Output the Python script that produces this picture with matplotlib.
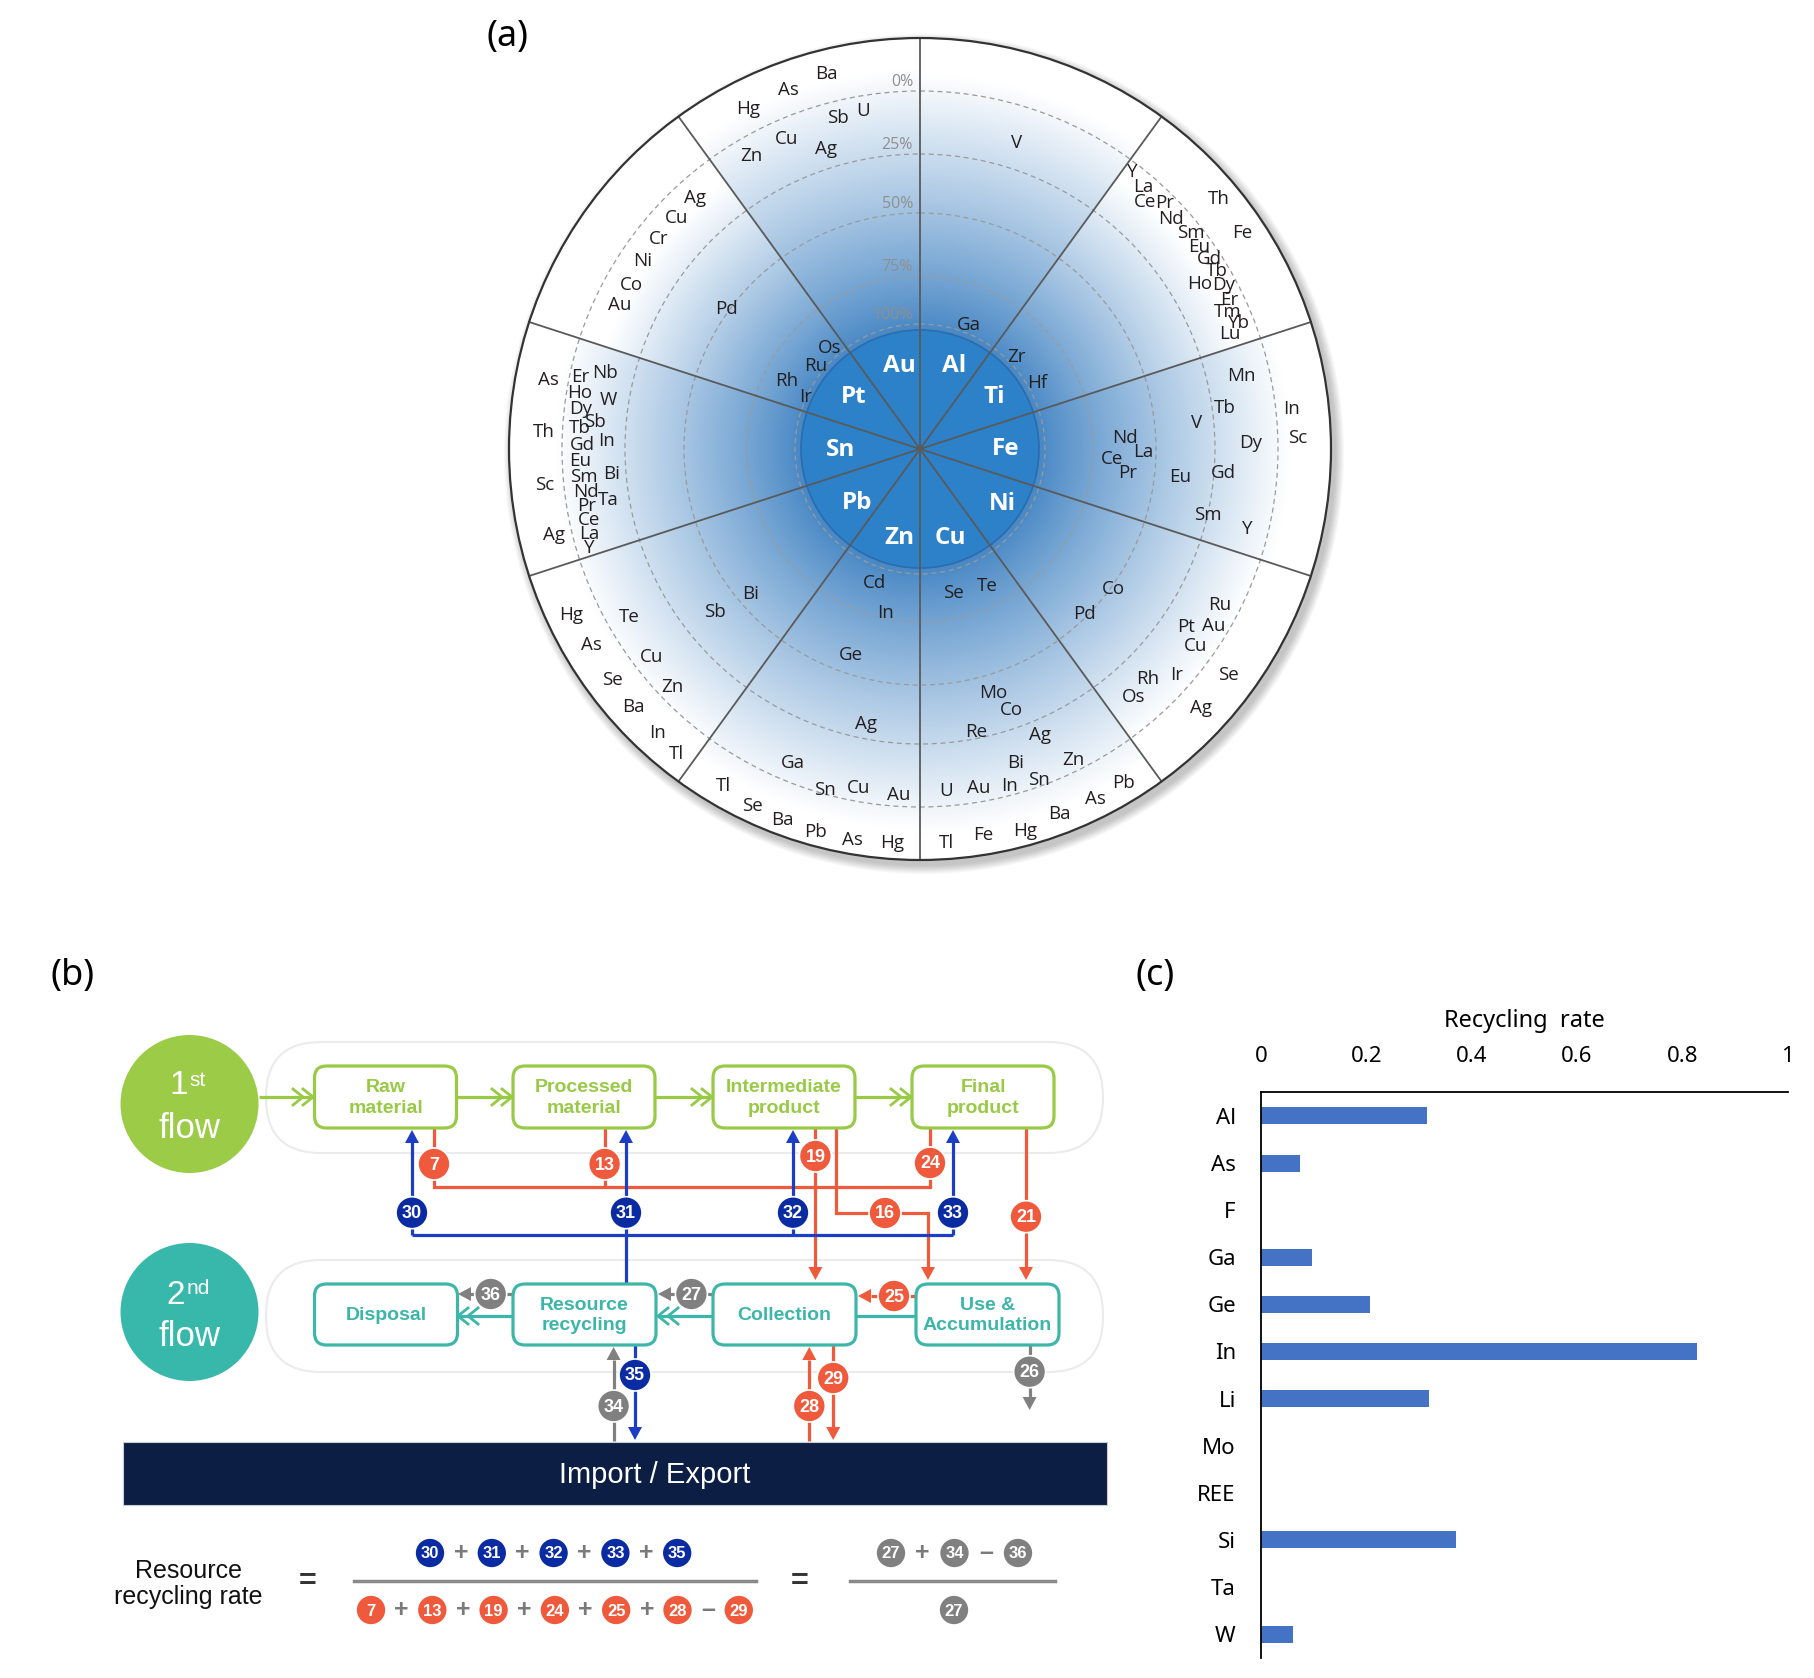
import numpy as np
import matplotlib
matplotlib.use("Agg")
import matplotlib.pyplot as plt
from matplotlib.patches import Circle, FancyBboxPatch, Polygon, Rectangle
from matplotlib import font_manager

###### data ######

# (a) wheel labels: (element, angle [deg], distance from wheel centre [px])
AL_SECTOR = [('V', 72.5, 321), ('Ga', 68.3, 133)]
TI_SECTOR = [('Zr', 43.7, 133), ('Hf', 29.4, 134), ('Y', 52.5, 349), ('La', 49.6, 344),
             ('Ce', 47.6, 334), ('Pr', 45.2, 347), ('Nd', 42.5, 341), ('Th', 39.9, 389),
             ('Sm', 38.6, 346), ('Fe', 33.9, 388), ('Eu', 35.9, 344), ('Gd', 33.3, 346),
             ('Tb', 31.0, 346), ('Ho', 30.5, 325), ('Dy', 28.4, 345), ('Er', 25.7, 343),
             ('Tm', 23.9, 337), ('Yb', 21.5, 343), ('Lu', 20.4, 331)]
FE_SECTOR = [('Mn', 12.8, 330), ('Tb', 7.6, 308), ('In', 6.2, 374), ('V', 5.3, 278),
             ('Nd', 3.0, 205), ('La', -0.7, 223), ('Ce', -3.1, 192), ('Pr', -6.5, 209),
             ('Eu', -6.2, 262), ('Gd', -4.5, 304), ('Dy', 1.1, 331), ('Sc', 1.6, 378),
             ('Sm', -12.9, 295), ('Y', -13.8, 337)]
NI_SECTOR = [('Co', -35.9, 239), ('Pd', -45.2, 233), ('Ru', -27.5, 338), ('Pt', -33.8, 320),
             ('Au', -31.0, 343), ('Cu', -35.5, 339), ('Rh', -45.3, 323), ('Ir', -41.4, 342),
             ('Se', -36.2, 382), ('Os', -49.3, 327), ('Ag', -42.6, 382)]
CU_SECTOR = [('Se', -76.9, 148), ('Te', -63.8, 153), ('Mo', -73.3, 255), ('Co', -70.7, 277),
             ('Re', -78.8, 288), ('Ag', -67.2, 310), ('Bi', -73.0, 328), ('Zn', -63.8, 347),
             ('U', -85.6, 343), ('Au', -80.1, 344), ('In', -75.2, 349), ('Sn', -70.3, 352),
             ('Tl', -86.2, 395), ('Fe', -80.7, 391), ('Hg', -74.6, 396), ('Ba', -69.1, 391),
             ('As', -63.4, 391), ('Pb', -58.7, 391)]
ZN_SECTOR = [('Cd', 251.1, 142), ('In', 258.0, 168), ('Ge', 251.4, 217), ('Ag', 258.8, 280),
             ('Ga', 248.0, 339), ('Sn', 254.4, 354), ('Cu', 259.7, 345), ('Au', 266.4, 347),
             ('Tl', 239.8, 390), ('Se', 244.8, 394), ('Ba', 249.7, 396), ('Pb', 254.8, 397),
             ('As', 260.2, 397), ('Hg', 265.9, 395)]
PB_SECTOR = [('Hg', 205.4, 386), ('Te', 210.0, 336), ('Sb', 218.6, 262), ('Bi', 220.4, 223),
             ('As', 210.8, 382), ('Cu', 217.8, 340), ('Se', 216.9, 384), ('Zn', 223.9, 343),
             ('Ba', 222.0, 386), ('In', 227.3, 387), ('Tl', 231.4, 390)]
SN_SECTOR = [('As', 169.5, 378), ('Er', 168.0, 347), ('Nb', 166.4, 324), ('Ho', 170.6, 345),
             ('W', 171.0, 315), ('Dy', 173.3, 342), ('Th', 177.4, 377), ('Tb', 176.5, 341),
             ('Sb', 175.2, 326), ('In', 178.5, 314), ('Gd', 179.3, 338), ('Eu', 182.0, 340),
             ('Sc', 185.5, 377), ('Sm', 184.7, 337), ('Bi', 184.6, 309), ('Nd', 187.3, 337),
             ('Ta', 189.2, 316), ('Pr', 189.7, 338), ('Ce', 192.1, 338), ('Ag', 193.2, 376),
             ('La', 194.4, 341), ('Y', 196.7, 345)]
PT_SECTOR = [('Ag', 131.9, 337), ('Cu', 136.5, 335), ('Cr', 141.2, 335), ('Ni', 145.8, 335),
             ('Co', 150.4, 332), ('Au', 154.4, 333), ('Pd', 144.1, 239), ('Os', 131.8, 135),
             ('Ru', 141.6, 133), ('Rh', 153.0, 150), ('Ir', 155.5, 126)]
AU_SECTOR = [('Ba', 104.0, 386), ('As', 110.1, 382), ('Hg', 116.8, 381), ('Sb', 103.9, 341),
             ('U', 99.5, 343), ('Cu', 113.3, 337), ('Ag', 107.4, 314), ('Zn', 119.9, 338)]

INNER_ELEMENTS = ['Fe', 'Ti', 'Al', 'Au', 'Pt', 'Sn', 'Pb', 'Zn', 'Cu', 'Ni']
INNER_ANGLES = [0, 35, 68, 104, 142, 181, 221, 257, 289, 326]
INNER_RADII = [86, 91, 90, 86, 84, 79, 83, 91, 94, 99]

RING_LABELS = ['0%', '25%', '50%', '75%', '100%']
RING_RADII = [358, 295, 236, 173, 125]
# where the blue shading fades to white, per sector (Fe, Ti, Al, Au, Pt, Sn, Pb, Zn, Cu, Ni)
SECTOR_FADE = [370, 335, 375, 380, 330, 365, 365, 380, 385, 360]

# (b) flow diagram
ROW1_LABELS = ['Raw\nmaterial', 'Processed\nmaterial', 'Intermediate\nproduct', 'Final\nproduct']
ROW2_LABELS = ['Disposal', 'Resource\nrecycling', 'Collection', 'Use &\nAccumulation']
NUM_1 = [30, 31, 32, 33, 35]
DEN_1 = [7, 13, 19, 24, 25, 28, 29]
DEN_1_OPS = ['+', '+', '+', '+', '+', '\u2013']
NUM_2 = [27, 34, 36]
NUM_2_OPS = ['+', '\u2013']
DEN_2 = [27]

# (c) recycling rate
ELEMENTS = ['Al', 'As', 'F', 'Ga', 'Ge', 'In', 'Li', 'Mo', 'REE', 'Si', 'Ta', 'W']
RATES = [0.316, 0.075, 0.0, 0.098, 0.208, 0.829, 0.320, 0.0, 0.0, 0.370, 0.0, 0.062]

###### fonts / colours ######
names = {f.name for f in font_manager.fontManager.ttflist}
SANS = 'Liberation Sans' if 'Liberation Sans' in names else 'DejaVu Sans'
WFONT = 'Open Sans' if 'Open Sans' in names else 'DejaVu Sans'
CFONT = 'Noto Sans' if 'Noto Sans' in names else 'DejaVu Sans'

GREEN = '#98CA45'
TEAL = '#3BB6A9'
RED = '#F05A3C'
BLUE = '#1C3EC4'
BLUE_B = '#0B2BA3'
GRAY = '#808080'
NAVY = '#0C1E44'

W, H = 1814, 1678
fig = plt.figure(figsize=(W / 100, H / 100), dpi=100)
ax = fig.add_axes([0, 0, 1, 1])

###### (a) wheel ######
CX, CY = 920, 449
R_OUT, R_IN = 411, 119


def pol(ang, r):
    a = np.radians(ang)
    return CX + r * np.cos(a), CY - r * np.sin(a)


# drop shadow
for i in range(10):
    ax.add_patch(Circle((CX + 4, CY + 5), R_OUT + 1 + i * 0.9, fc='k', ec='none',
                        alpha=0.025, zorder=0.5))

# radial shading, per sector
x0, x1, y0, y1 = 500, 1340, 30, 870
X, Y = np.meshgrid(np.arange(x0, x1) + 0.5, np.arange(y0, y1) + 0.5)
dx, dy = X - CX, CY - Y
rr = np.hypot(dx, dy)
ang = np.degrees(np.arctan2(dy, dx)) % 360
k = np.round(ang / 36).astype(int) % 10
fade = np.array(SECTOR_FADE, dtype=float)[k]
t = np.clip((rr - R_IN) / (fade - R_IN), 0, 1) ** 0.9
c_in = np.array([0.28, 0.53, 0.77])
rgb = c_in[None, None, :] * (1 - t[..., None]) + t[..., None]
alpha = (rr <= R_OUT).astype(float)
img = np.dstack([rgb, alpha])
ax.imshow(img, extent=(x0, x1, y1, y0), origin='upper', interpolation='bilinear',
          aspect='auto', zorder=1)

for r in RING_RADII:
    ax.add_patch(Circle((CX, CY), r, fc='none', ec='#9a9a9a', lw=0.9, ls=(0, (4, 3)), zorder=2))
ax.add_patch(Circle((CX, CY), R_IN, fc='#2C81C9', ec='#2a6cae', lw=1.2, zorder=2.5))
for a in range(18, 360, 36):
    xe, ye = pol(a, R_OUT)
    ax.plot([CX, xe], [CY, ye], color='#5a5a5a', lw=1.3, zorder=3)
ax.add_patch(Circle((CX, CY), R_OUT, fc='none', ec='#333333', lw=1.6, zorder=3))

for lab, r in zip(RING_LABELS, RING_RADII):
    ax.text(CX - 7, CY - r - 9, lab, ha='right', va='center', fontsize=11.5,
            color='#8f8f8f', family=WFONT, zorder=4)

for sector in [AL_SECTOR, TI_SECTOR, FE_SECTOR, NI_SECTOR, CU_SECTOR, ZN_SECTOR,
               PB_SECTOR, SN_SECTOR, PT_SECTOR, AU_SECTOR]:
    for el, a, r in sector:
        x, y = pol(a, r)
        ax.text(x, y, el, ha='center', va='center', fontsize=13.5, color='#231f20',
                family=WFONT, zorder=4)

for el, a, r in zip(INNER_ELEMENTS, INNER_ANGLES, INNER_RADII):
    x, y = pol(a, r)
    ax.text(x, y, el, ha='center', va='center', fontsize=17.5, color='white',
            fontweight='bold', family=WFONT, zorder=4)

###### (b) flow diagram ######


def seg(xs, ys, color, lw=2.3, z=2):
    ax.plot(xs, ys, color=color, lw=lw, solid_capstyle='butt', solid_joinstyle='miter', zorder=z)


def head(x, y, d, color, L=13, w=7):
    if d == 'up':
        pts = [(x, y), (x - w, y + L), (x + w, y + L)]
    elif d == 'down':
        pts = [(x, y), (x - w, y - L), (x + w, y - L)]
    elif d == 'left':
        pts = [(x, y), (x + L, y - w), (x + L, y + w)]
    else:
        pts = [(x, y), (x - L, y - w), (x - L, y + w)]
    ax.add_patch(Polygon(pts, closed=True, fc=color, ec='none', zorder=4))


def chev(x, y, d, color):
    s = 1 if d == 'right' else -1
    for off in (0, 10):
        xt = x - s * off
        ax.plot([xt - s * 10, xt, xt - s * 10], [y - 8, y, y + 8], color=color, lw=2,
                solid_joinstyle='miter', zorder=2)


def badge(x, y, n, color, r=16, fs=13):
    ax.add_patch(Circle((x, y), r, fc=color, ec='white', lw=1.2, zorder=6))
    ax.text(x, y + 1, str(n), color='white', fontsize=fs, fontweight='bold', ha='center',
            va='center', family=SANS, zorder=7)


def rbox(xl, yt, w, h, color, label):
    ax.add_patch(FancyBboxPatch((xl, yt), w, h, boxstyle='round,pad=0,rounding_size=12',
                                fc='white', ec=color, lw=2.3, zorder=3))
    ax.text(xl + w / 2, yt + h / 2 + 1, label, color=color, ha='center', va='center',
            fontsize=14, fontweight='bold', family=SANS, linespacing=1.3, zorder=4)


# lanes
for ly0, ly1 in [(1042, 1153), (1260, 1372)]:
    ax.add_patch(FancyBboxPatch((266, ly0), 1103 - 266, ly1 - ly0,
                                boxstyle='round,pad=0,rounding_size=55',
                                fc='white', ec='#ebebeb', lw=1.5, zorder=1))

# flow circles
ax.add_patch(Circle((189.5, 1104), 69, fc='#9BCB47', ec='none', zorder=3))
ax.add_patch(Circle((189.5, 1312), 69, fc='#38B8AA', ec='none', zorder=3))
ax.text(179, 1086, '1', color='white', fontsize=24, ha='center', va='center', family=SANS, zorder=4)
ax.text(189, 1080, 'st', color='white', fontsize=15, ha='left', va='center', family=SANS, zorder=4)
ax.text(189.5, 1129, 'flow', color='white', fontsize=25, ha='center', va='center', family=SANS, zorder=4)
ax.text(176, 1295, '2', color='white', fontsize=24, ha='center', va='center', family=SANS, zorder=4)
ax.text(187, 1288, 'nd', color='white', fontsize=15, ha='left', va='center', family=SANS, zorder=4)
ax.text(189.5, 1337, 'flow', color='white', fontsize=25, ha='center', va='center', family=SANS, zorder=4)

# boxes
row1_x = [314.5, 513, 713, 912]
row2_x = [314.5, 513, 713, 916]
for xl, lab in zip(row1_x, ROW1_LABELS):
    rbox(xl, 1066, 142, 62, GREEN, lab)
for xl, lab in zip(row2_x, ROW2_LABELS):
    rbox(xl, 1284, 143, 61, TEAL, lab)

# first flow arrows
seg([258.5, 313], [1097, 1097], GREEN)
chev(313, 1097, 'right', GREEN)
for xa, xb in [(456.5, 513), (655, 713), (855, 912)]:
    seg([xa, xb - 1], [1097, 1097], GREEN)
    chev(xb - 1, 1097, 'right', GREEN)

# second flow arrows
seg([458, 513], [1316, 1316], TEAL)
chev(458, 1316, 'left', TEAL)
seg([658, 713], [1316, 1316], TEAL)
chev(658, 1316, 'left', TEAL)
seg([856, 916], [1316, 1316], TEAL)

# gray / red arrows between second-flow boxes
seg([470, 513], [1294, 1294], GRAY)
head(458, 1294, 'left', GRAY)
badge(490.7, 1294, 36, GRAY)
seg([670, 713], [1294, 1294], GRAY)
head(658, 1294, 'left', GRAY)
badge(691.4, 1294, 27, GRAY)
seg([871, 916], [1296, 1296], RED)
head(858, 1296, 'left', RED)
badge(894, 1296, 25, RED)

# red outflows from first flow
seg([434, 434, 930, 930], [1128, 1187, 1187, 1128], RED)
seg([604.6, 604.6], [1128, 1187], RED)
badge(434, 1164, 7, RED)
badge(604.6, 1164, 13, RED)
badge(930, 1163, 24, RED)
seg([815.4, 815.4], [1128, 1268], RED)
head(815.4, 1280, 'down', RED)
badge(815.4, 1156, 19, RED)
seg([836, 836, 928, 928], [1128, 1213, 1213, 1268], RED)
head(928, 1280, 'down', RED)
badge(885, 1213, 16, RED)
seg([1026, 1026], [1128, 1268], RED)
head(1026, 1280, 'down', RED)
badge(1026, 1216.7, 21, RED)

# blue recycled inflows
seg([412, 953], [1235, 1235], BLUE)
for xb in [412, 626, 793, 953]:
    seg([xb, xb], [1235, 1142], BLUE)
    head(xb, 1130, 'up', BLUE)
seg([626, 626], [1235, 1284], BLUE)
for xb, n in zip([412, 626, 793, 953], [30, 31, 32, 33]):
    badge(xb, 1212.7, n, BLUE_B)

# import / export flows
seg([613.6, 613.6], [1441, 1360], GRAY)
head(613.6, 1347, 'up', GRAY)
badge(613.6, 1406, 34, GRAY)
seg([635, 635], [1345, 1428], BLUE)
head(635, 1440, 'down', BLUE)
badge(635, 1375, 35, BLUE_B)
seg([809.3, 809.3], [1441, 1360], RED)
head(809.3, 1347, 'up', RED)
badge(809.3, 1406, 28, RED)
seg([833.2, 833.2], [1345, 1428], RED)
head(833.2, 1440, 'down', RED)
badge(833.2, 1378, 29, RED)
seg([1029.6, 1029.6], [1345, 1398], GRAY)
head(1029.6, 1410, 'down', GRAY)
badge(1029.6, 1371.7, 26, GRAY)

ax.add_patch(Rectangle((122.6, 1441.6), 1107 - 122.6, 1505 - 1441.6, fc=NAVY,
                       ec='#c8ccd6', lw=0.8, zorder=3))
ax.text(655, 1475, 'Import / Export', color='white', fontsize=21, ha='center', va='center',
        family=SANS, zorder=4)

# resource recycling rate formula
ax.text(188.5, 1584, 'Resource\nrecycling rate', fontsize=18, ha='center', va='center',
        family=SANS, linespacing=1.08, color='#111111')


def fcolor(n):
    if n in (30, 31, 32, 33, 35):
        return BLUE_B
    if n in (27, 34, 36, 26):
        return GRAY
    return RED


def badge_row(nums, ops, xs0, step, y):
    xs = [xs0 + step * i for i in range(len(nums))]
    for i, (x, n) in enumerate(zip(xs, nums)):
        badge(x, y, n, fcolor(n), r=15, fs=12)
        if i < len(nums) - 1:
            ax.text(x + step / 2, y, ops[i], color='#7a7a7a', fontsize=18, fontweight='bold',
                    ha='center', va='center', family=SANS, zorder=7)


ax.text(308, 1582, '=', fontsize=22, fontweight='bold', ha='center', va='center',
        color='#333333', family=SANS)
ax.plot([354, 756], [1581, 1581], color='#8a8a8a', lw=2.5, zorder=5)
badge_row(NUM_1, ['+'] * 4, 430, 61.8, 1553)
badge_row(DEN_1, DEN_1_OPS, 371, 61.3, 1610)
ax.text(800, 1582, '=', fontsize=22, fontweight='bold', ha='center', va='center',
        color='#333333', family=SANS)
ax.plot([850, 1055], [1581, 1581], color='#8a8a8a', lw=2.5, zorder=5)
badge_row(NUM_2, NUM_2_OPS, 891, 63.5, 1553)
badge_row(DEN_2, [], 954, 63.5, 1610)

# panel labels
ax.text(507, 37, '(a)', fontsize=26, ha='center', va='center', family=CFONT)
ax.text(73, 976, '(b)', fontsize=26, ha='center', va='center', family=CFONT)
ax.text(1155, 976, '(c)', fontsize=26, ha='center', va='center', family=CFONT)

ax.set_xlim(0, W)
ax.set_ylim(H, 0)
ax.axis('off')

###### (c) bar chart ######
left, right, top, bottom = 1260.8, 1787.5, 1092.4, 1657.6
axc = fig.add_axes([left / W, 1 - bottom / H, (right - left) / W, (bottom - top) / H])
axc.barh(range(len(ELEMENTS)), RATES, height=0.36, color='#4472C4')
axc.set_xlim(0, 1)
axc.set_ylim(len(ELEMENTS) - 0.5, -0.5)
axc.xaxis.tick_top()
axc.xaxis.set_label_position('top')
axc.set_xticks([0, 0.2, 0.4, 0.6, 0.8, 1])
axc.set_xticklabels(['0', '0.2', '0.4', '0.6', '0.8', '1'], family=CFONT, fontsize=16)
axc.set_yticks(range(len(ELEMENTS)))
axc.set_yticklabels(ELEMENTS, family=CFONT, fontsize=16)
axc.tick_params(axis='both', length=0)
axc.tick_params(axis='x', pad=18)
axc.tick_params(axis='y', pad=18)
axc.set_xlabel('Recycling  rate', family=CFONT, fontsize=17, labelpad=14)
for s in ['right', 'bottom']:
    axc.spines[s].set_visible(False)
for s in ['top', 'left']:
    axc.spines[s].set_linewidth(1.3)
axc.patch.set_alpha(0)

fig.savefig('out.png', dpi=100)
